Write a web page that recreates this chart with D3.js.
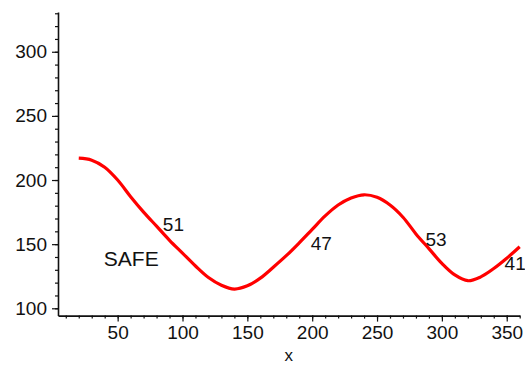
<!DOCTYPE html>
<html>
<head>
<meta charset="utf-8">
<script src="https://cdn.jsdelivr.net/npm/d3@7"></script>
<style>
  body { margin: 0; background: #fff; }
  svg { display: block; }
  text { font-family: "Liberation Sans", Arial, sans-serif; fill: #111; }
</style>
</head>
<body>
<div id="viz"></div>
<script>
// courbe rouge + etiquettes
const xValues = [20, 30, 40, 50, 60, 70, 80, 90, 100, 110, 120, 130, 140, 150, 160, 170, 180,
  190, 200, 210, 220, 230, 240, 250, 260, 270, 280, 290, 300, 310, 320, 330, 340, 350, 360];
const yValues = [217, 215.5, 210, 200, 187, 175, 164, 153, 143, 133, 124, 118, 115, 117.5, 123.5, 132, 141,
  151, 161.5, 172, 180.5, 186, 188.5, 186.5, 180.5, 171, 158, 146.5, 135, 126, 121.5, 124.5, 131, 139, 148];

const labelText = ["51", "47", "53", "41", "SAFE"];
const labelX = [93, 207, 295.5, 356.5, 60.5];
const labelY = [165.5, 151, 154, 135, 139];

const xTicks = [50, 100, 150, 200, 250, 300, 350];
const yTicks = [100, 150, 200, 250, 300];
const xMinor = d3.range(10, 361, 10);
const yMinor = d3.range(100, 331, 10);

function main() {
  const width = 525;
  const height = 366;

  const svg = d3.select("#viz").append("svg")
    .attr("width", width)
    .attr("height", height);

  // Echelles
  const x = d3.scaleLinear().domain([4, 360]).range([58, 519.7]);
  const y = d3.scaleLinear().domain([94.3, 331]).range([315.6, 12]);

  // ticks mineurs
  svg.append("g")
    .attr("transform", `translate(${x.range()[0]},0)`)
    .call(d3.axisLeft(y).tickValues(yMinor).tickSize(3).tickFormat("").tickSizeOuter(0))
    .call(g => g.select(".domain").remove());
  svg.append("g")
    .attr("transform", `translate(0,${y.range()[0]})`)
    .call(d3.axisBottom(x).tickValues(xMinor).tickSize(3).tickFormat("").tickSizeOuter(0))
    .call(g => g.select(".domain").remove());

  // Axe Y
  svg.append("g")
    .attr("transform", `translate(${x.range()[0]},0)`)
    .call(d3.axisLeft(y).tickValues(yTicks).tickSize(6).tickPadding(5).tickSizeOuter(0));

  // Axe X
  svg.append("g")
    .attr("transform", `translate(0,${y.range()[0]})`)
    .call(d3.axisBottom(x).tickValues(xTicks).tickSize(6).tickPadding(4).tickSizeOuter(0));

  svg.selectAll(".tick line").attr("stroke", "#111").attr("stroke-width", 1.2);
  svg.selectAll(".domain").attr("stroke", "#111").attr("stroke-width", 1.6);
  svg.selectAll(".tick text")
    .attr("font-size", 19)
    .attr("font-family", "'Liberation Sans', Arial, sans-serif")
    .attr("fill", "#111");

  // titre axe x
  svg.append("text")
    .attr("x", (x.range()[0] + x.range()[1]) / 2)
    .attr("y", 361)
    .attr("text-anchor", "middle")
    .attr("font-size", 17)
    .text("x");

  // la courbe
  const pts = xValues.map((v, i) => [v, yValues[i]]);
  const line = d3.line()
    .x(d => x(d[0]))
    .y(d => y(d[1]))
    .curve(d3.curveCatmullRom);

  svg.append("path")
    .datum(pts)
    .attr("d", line)
    .attr("fill", "none")
    .attr("stroke", "#ff0000")
    .attr("stroke-width", 3.2)
    .attr("stroke-linejoin", "round");

  // etiquettes
  labelText.forEach((t, i) => {
    svg.append("text")
      .attr("x", x(labelX[i]))
      .attr("y", y(labelY[i]))
      .attr("dy", "0.36em")
      .attr("text-anchor", "middle")
      .attr("font-size", t === "SAFE" ? 21 : 19)
      .text(t);
  });
}

main();
</script>
</body>
</html>
